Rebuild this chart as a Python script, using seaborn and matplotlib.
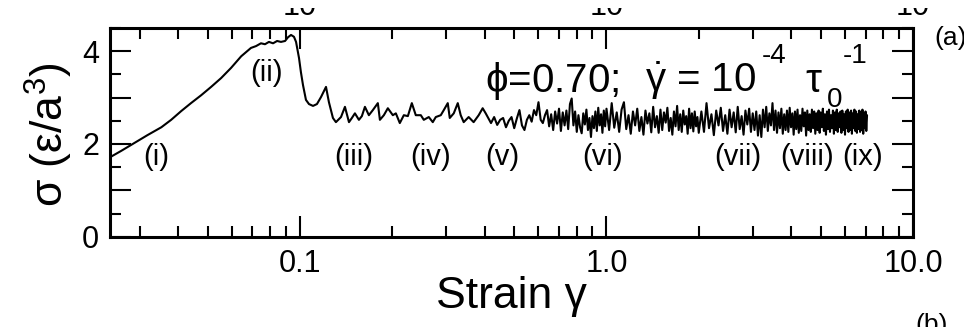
import numpy as np
import pandas as pd
import matplotlib
matplotlib.use("Agg")
import matplotlib.pyplot as plt
import matplotlib.transforms as mtransforms
import seaborn as sns
from matplotlib.ticker import FixedLocator, LogLocator, MultipleLocator, FuncFormatter, NullFormatter

# ---------------- data ----------------
# loading, stress overshoot and early flow
strain_loading = [0.0241, 0.0261, 0.0288, 0.0318, 0.0353, 0.0380, 0.0410, 0.0441, 0.0476, 0.0513,
                  0.0553, 0.0596, 0.0643, 0.0667, 0.0692, 0.0719, 0.0746, 0.0769, 0.0792, 0.0817,
                  0.0842, 0.0867, 0.0894, 0.0914, 0.0935, 0.0956, 0.0971, 0.0993, 0.1007, 0.1023,
                  0.1046, 0.1070, 0.1103, 0.1136, 0.1171, 0.1216, 0.1243, 0.1281, 0.1310, 0.1361,
                  0.1402, 0.1445, 0.1477, 0.1511, 0.1557, 0.1592, 0.1629, 0.1678, 0.1729, 0.1795,
                  0.1823, 0.1878, 0.1935, 0.2009, 0.2055, 0.2117, 0.2182, 0.2249, 0.2317, 0.2387,
                  0.2479, 0.2535, 0.2632, 0.2712, 0.2774, 0.2880, 0.2946, 0.3035, 0.3081, 0.3175,
                  0.3272, 0.3345, 0.3421, 0.3551, 0.3686, 0.3829, 0.3945, 0.4036]
stress_loading = [1.72, 1.85, 2.02, 2.19, 2.36, 2.52, 2.71, 2.88, 3.05, 3.23,
                  3.42, 3.64, 3.89, 3.98, 4.07, 4.11, 4.17, 4.15, 4.20, 4.17,
                  4.22, 4.20, 4.22, 4.30, 4.35, 4.31, 4.20, 3.85, 3.55, 3.27,
                  2.95, 2.86, 2.82, 2.86, 3.01, 3.23, 2.90, 2.56, 2.47, 2.58,
                  2.80, 2.47, 2.56, 2.66, 2.52, 2.60, 2.80, 2.62, 2.73, 2.88,
                  2.52, 2.62, 2.77, 2.62, 2.66, 2.45, 2.62, 2.60, 2.88, 2.62,
                  2.62, 2.52, 2.58, 2.47, 2.58, 2.62, 2.73, 2.88, 2.56, 2.66,
                  2.88, 2.62, 2.47, 2.58, 2.47, 2.62, 2.77, 2.66]

# flow region 0.42 - 1.00
strain_flow = [0.42, 0.43, 0.44, 0.45, 0.46, 0.47, 0.48, 0.49,
               0.50, 0.51, 0.52, 0.53, 0.54, 0.55, 0.56, 0.57, 0.58, 0.59,
               0.60, 0.61, 0.62, 0.63, 0.64, 0.65, 0.66, 0.67, 0.68, 0.69,
               0.70, 0.71, 0.72, 0.73, 0.74, 0.75, 0.76, 0.77, 0.78, 0.79,
               0.80, 0.81, 0.82, 0.83, 0.84, 0.85, 0.86, 0.87, 0.88, 0.89,
               0.90, 0.91, 0.92, 0.93, 0.94, 0.95, 0.96, 0.97, 0.98, 0.99,
               1.00]
stress_flow = [2.45, 2.58, 2.41, 2.52, 2.56, 2.36, 2.50, 2.58,
               2.34, 2.55, 2.73, 2.40, 2.30, 2.52, 2.62, 2.48, 2.73, 2.62,
               2.90, 2.52, 2.45, 2.62, 2.73, 2.38, 2.64, 2.30, 2.70, 2.44,
               2.76, 2.28, 2.68, 2.40, 2.72, 2.32, 2.86, 2.98, 2.40, 2.70,
               2.26, 2.62, 2.36, 2.23, 2.66, 2.42, 2.74, 2.30, 2.56, 2.15,
               2.60, 2.34, 2.70, 2.28, 2.78, 2.40, 2.64, 2.24, 2.72, 2.38,
               2.76]

# steady state 1.02 - 2.00
strain_steady1 = [1.02, 1.04, 1.06, 1.08, 1.10, 1.12, 1.14, 1.16, 1.18, 1.20,
                  1.22, 1.24, 1.26, 1.28, 1.30, 1.32, 1.34, 1.36, 1.38, 1.40,
                  1.42, 1.44, 1.46, 1.48, 1.50, 1.52, 1.54, 1.56, 1.58, 1.60,
                  1.62, 1.64, 1.66, 1.68, 1.70, 1.72, 1.74, 1.76, 1.78, 1.80,
                  1.82, 1.84, 1.86, 1.88, 1.90, 1.92, 1.94, 1.96, 1.98, 2.00]
stress_steady1 = [2.30, 2.88, 2.35, 2.68, 2.26, 2.74, 2.90, 2.32, 2.62, 2.22,
                  2.70, 2.40, 2.76, 2.28, 2.58, 2.20, 2.72, 2.44, 2.66, 2.25,
                  2.80, 2.36, 2.60, 2.24, 2.74, 2.30, 2.68, 2.46, 2.78, 2.28,
                  2.56, 2.20, 2.70, 2.38, 2.82, 2.30, 2.64, 2.26, 2.72, 2.42,
                  2.60, 2.22, 2.76, 2.34, 2.66, 2.27, 2.70, 2.38, 2.58, 2.24]

# steady state 2.04 - 7.08
strain_steady2 = [2.04, 2.08, 2.12, 2.16, 2.20, 2.24, 2.28, 2.32, 2.36, 2.40,
                  2.44, 2.48, 2.52, 2.56, 2.60, 2.64, 2.68, 2.72, 2.76, 2.80,
                  2.84, 2.88, 2.92, 2.96, 3.00, 3.04, 3.08, 3.12, 3.16, 3.20,
                  3.24, 3.28, 3.32, 3.36, 3.40, 3.44, 3.48, 3.52, 3.56, 3.60,
                  3.64, 3.68, 3.72, 3.76, 3.80, 3.84, 3.88, 3.92, 3.96, 4.00,
                  4.04, 4.08, 4.12, 4.16, 4.20, 4.24, 4.28, 4.32, 4.36, 4.40,
                  4.44, 4.48, 4.52, 4.56, 4.60, 4.64, 4.68, 4.72, 4.76, 4.80,
                  4.84, 4.88, 4.92, 4.96, 5.00, 5.04, 5.08, 5.12, 5.16, 5.20,
                  5.24, 5.28, 5.32, 5.36, 5.40, 5.44, 5.48, 5.52, 5.56, 5.60,
                  5.64, 5.68, 5.72, 5.76, 5.80, 5.84, 5.88, 5.92, 5.96, 6.00,
                  6.04, 6.08, 6.12, 6.16, 6.20, 6.24, 6.28, 6.32, 6.36, 6.40,
                  6.44, 6.48, 6.52, 6.56, 6.60, 6.64, 6.68, 6.72, 6.76, 6.80,
                  6.84, 6.88, 6.92, 6.96, 7.00, 7.04, 7.08]
stress_steady2 = [2.70, 2.26, 2.88, 2.34, 2.64, 2.19, 2.72, 2.40, 2.78, 2.28,
                  2.62, 2.22, 2.74, 2.36, 2.68, 2.25, 2.80, 2.32, 2.60, 2.20,
                  2.72, 2.42, 2.76, 2.26, 2.66, 2.30, 2.70, 2.18, 2.62, 2.15,
                  2.74, 2.36, 2.80, 2.28, 2.66, 2.40, 2.88, 2.30, 2.72, 2.24,
                  2.68, 2.34, 2.76, 2.22, 2.64, 2.30, 2.72, 2.26, 2.78, 2.36,
                  2.66, 2.20, 2.70, 2.32, 2.74, 2.24, 2.62, 2.28, 2.76, 2.38,
                  2.68, 2.18, 2.72, 2.30, 2.64, 2.26, 2.74, 2.34, 2.70, 2.22,
                  2.66, 2.30, 2.72, 2.24, 2.68, 2.36, 2.76, 2.28, 2.64, 2.20,
                  2.70, 2.32, 2.74, 2.26, 2.62, 2.34, 2.72, 2.22, 2.68, 2.30,
                  2.74, 2.26, 2.66, 2.36, 2.70, 2.24, 2.72, 2.30, 2.64, 2.20,
                  2.70, 2.34, 2.74, 2.26, 2.68, 2.30, 2.72, 2.22, 2.66, 2.34,
                  2.74, 2.28, 2.70, 2.24, 2.64, 2.32, 2.72, 2.26, 2.68, 2.30,
                  2.74, 2.22, 2.66, 2.34, 2.70, 2.28, 2.62]

# labels of the marked states
state_labels = ["(i)", "(ii)", "(iii)", "(iv)", "(v)", "(vi)", "(vii)", "(viii)", "(ix)"]
state_strain = [0.034, 0.078, 0.150, 0.267, 0.458, 0.97, 2.69, 4.52, 6.87]
state_stress = [1.72, 3.53, 1.72, 1.72, 1.72, 1.72, 1.72, 1.72, 1.72]

xtick_values = [0.1, 1.0, 10.0]
xtick_labels = ["0.1", "1.0", "10.0"]

# ---------------- figure ----------------
sns.set_theme(style="ticks")
plt.rcParams["font.family"] = ["Liberation Sans", "DejaVu Sans"]
plt.rcParams["mathtext.fontset"] = "custom"
plt.rcParams["mathtext.rm"] = "Liberation Sans"
plt.rcParams["mathtext.it"] = "Liberation Sans:italic"
plt.rcParams["mathtext.bf"] = "Liberation Sans:bold"
plt.rcParams["text.color"] = "black"
plt.rcParams["axes.labelcolor"] = "black"

strain = strain_loading + strain_flow + strain_steady1 + strain_steady2
stress = stress_loading + stress_flow + stress_steady1 + stress_steady2
df = pd.DataFrame({"strain": strain, "stress": stress})

W, H = 964, 327
fig = plt.figure(figsize=(W / 100, H / 100), dpi=100)
ax = fig.add_axes([0.1141, 0.2761, 0.8330, 0.6383])

sns.lineplot(data=df, x="strain", y="stress", ax=ax, color="black",
             linewidth=1.5, estimator=None, sort=False)

ax.set_xscale("log")
ax.set_xlim(0.024, 10.0)
ax.set_ylim(0, 4.5)

ax.xaxis.set_major_locator(FixedLocator(xtick_values))
ax.set_xticklabels(xtick_labels)
ax.xaxis.set_minor_locator(LogLocator(base=10, subs=np.arange(2, 10), numticks=30))
ax.xaxis.set_minor_formatter(NullFormatter())
ax.yaxis.set_major_locator(MultipleLocator(1))
ax.yaxis.set_minor_locator(MultipleLocator(0.5))
ax.yaxis.set_major_formatter(FuncFormatter(lambda v, p: f"{v:.0f}" if int(round(v)) % 2 == 0 else ""))

ax.tick_params(which="both", direction="in", top=True, right=True,
               width=1.5, colors="black", labelsize=22)
ax.tick_params(which="major", length=15)
ax.tick_params(which="minor", length=8)
ax.tick_params(axis="x", pad=9)
ax.tick_params(axis="y", pad=8)
for s in ax.spines.values():
    s.set_linewidth(2.2)
    s.set_color("black")

ax.set_xlabel("Strain γ", fontsize=32)
ax.set_ylabel("σ (ε/a$^3$)", fontsize=32)
ax.xaxis.set_label_coords(0.5, -0.19)
ax.yaxis.set_label_coords(-0.044, 0.49)

for lab, sx, sy in zip(state_labels, state_strain, state_stress):
    ax.text(sx, sy, lab, fontsize=21, ha="center", va="center")


def axfrac(px, py):
    return ((px - 110) / 803, (236.7 - py) / 208.7)


# annotation built from pieces so the raised exponents sit as in the reference
pieces = [
    (485, 92, r"$\mathrm{\phi}$=0.70;", 29),
    (645, 92, r"$\dot{\mathrm{\gamma}}$ = 10", 29),
    (762, 63, "-4", 20),
    (805, 92, r"$\mathrm{\tau}$", 29),
    (827, 107, "0", 20),
    (843, 63, "-1", 20),
]
for px, py, txt, fs in pieces:
    fx, fy = axfrac(px, py)
    ax.text(fx, fy, txt, transform=ax.transAxes, fontsize=fs, ha="left", va="baseline")

# partial labels of the panel above (clipped) and panel letters
trans = mtransforms.blended_transform_factory(ax.transData, fig.transFigure)
clip = mtransforms.TransformedBbox(mtransforms.Bbox([[0, 0], [1, 1 - 8 / H]]), fig.transFigure)
for xv in xtick_values:
    t = fig.text(xv, 1 - 15 / H, "10", transform=trans, fontsize=22,
                 ha="center", va="baseline")
    t.set_clip_box(clip)
    t.set_clip_on(True)
fig.text(934 / W, 1 - 38 / H, "(a)", fontsize=19, ha="left", va="center")
fig.text(915 / W, 1 - 313 / H, "(b)", fontsize=19, ha="left", va="top")

fig.savefig("out.png", dpi=100)
